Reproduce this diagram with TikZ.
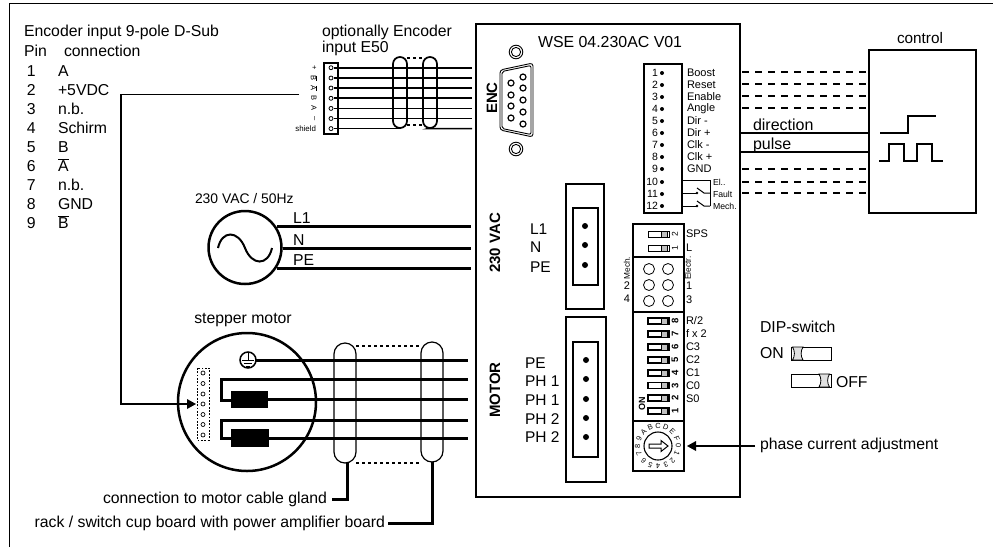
\documentclass[tikz,border=0pt]{standalone}
\usepackage{fontspec}
\usetikzlibrary{calc}
\setmainfont{Liberation Sans}
\newcommand\ovl[1]{\leavevmode\vbox{\hrule height .8pt \kern .4pt\hbox{#1}}}
\newcommand\fs[1]{\fontsize{#1}{#1}\selectfont}
\tikzset{
  base/.style={inner sep=0pt,outer sep=0pt},
  txt/.style={base,anchor=base west,font=\fs{15.8}},
  lbl/.style={base,anchor=west,font=\fs{15.8}},
  lblb/.style={base,anchor=west,font=\fs{15.5}},
  small/.style={base,anchor=west,font=\fs{11}},
  tiny/.style={base,anchor=west,font=\fs{8.7}},
  boldv/.style={base,rotate=90,font=\fs{15}\bfseries},
  wireA/.style={line width=1.7pt},
  wireB/.style={line width=3pt},
  dashw/.style={line width=1.2pt,dash pattern=on 6.5pt off 6.5pt},
  box/.style={draw,line width=1.5pt},
  capA/.style={draw,line width=1.7pt,rounded corners=7pt,minimum width=14pt,minimum height=71pt,base},
  capB/.style={draw,line width=1.2pt,rounded corners=11pt,minimum width=22pt,minimum height=120pt,base},
  dotw/.style={line width=2pt,dash pattern=on 3pt off 3pt},
}
\begin{document}
\begin{tikzpicture}[x=1pt,y=-1pt]
\useasboundingbox (0,0) rectangle (993,547);
% outer frame
\coordinate (fa) at (9,547); \coordinate (fb) at (9,3); \coordinate (fc) at (993,3);
\draw[line width=1pt] (fa) -- (fb) -- (fc);
% pin table
\node[txt] (t1) at (24,36) {Encoder input 9-pole D-Sub};
\node[txt] (t2) at (24,56) {Pin};
\node[txt] (t3) at (64,56) {connection};
\foreach \n/\v/\y in {1/A/71,2/+5VDC/89.5,3/n.b./108.5,4/Schirm/127.5,5/B/146.5,6/\ovl{A}/165.5,7/n.b./184.5,8/GND/203.5,9/\ovl{B}/222.5}{
  \node[base,anchor=base west,font=\fs{15.8}] (pn\n) at (27,\y+5.5) {\n};
  \node[base,anchor=base west,font=\fs{15.8}] (pv\n) at (58,\y+5.5) {\v};
}
% E50
\node[txt] (o1) at (322,36) {optionally Encoder};
\node[txt] (o2) at (322,52) {input E50};
\node[box,base,minimum width=14pt,minimum height=71pt] (e50) at (331,98.5) {};
\coordinate (wend) at (472,0);
\foreach \i/\y/\s in {1/67.7/+,2/78/\ovl{B},3/88/\ovl{A},4/98.3/B,5/108.4/A,6/118.5/--}{
  \coordinate (ec\i) at (331,\y);
  \draw[wireA] (ec\i) ++(3,0) -- (ec\i -| wend);
  \draw[line width=.8pt,fill=white] (ec\i) circle (2pt);
  \node[base,rotate=-90,font=\fs{7.5}] (el\i) at (314,\y) {\s};
}
\coordinate (ec7) at (331,128.6);
\draw[line width=.8pt,fill=white] (ec7) circle (2pt);
\node[base,anchor=east,font=\fs{7.9}] (el7) at (316,129) {shield};
\node[capA] (ca) at (400,92.5) {};
\node[capA] (cb) at (430,92.5) {};
\draw[wireA] (ec7) ++(3,0) -- (400,128.6) -- (ca.south);
\draw[wireA] (cb.south) -- (428,128.6) -- (ec7 -| wend);
\draw[dotw] ($(ca.north east)+(0,1)$) -- ($(cb.north west)+(0,1)$);
\draw[dotw] ($(ca.south east)+(0,-3)$) -- ($(cb.south west)+(0,-3)$);
% +5V feed
\coordinate (fs) at (299,94.5); \coordinate (fm) at (196,404);
\draw[line width=1.1pt] (fs) -- (121,94.5) -- (121,404) -- (188,404);
\fill (fm) -- (187,399) -- (187,409) -- cycle;
% AC source
\node[base,anchor=base west,font=\fs{13.9}] (acl) at (195,203) {230 VAC / 50Hz};
\node[draw,circle,line width=2.5pt,minimum size=73pt,base] (ac) at (245,247.5) {};
\draw[line width=2pt] (218,248) .. controls (222,230) and (238,230) .. (245,248) .. controls (252,266) and (268,266) .. (272,248);
\foreach \n/\l/\y/\x/\b in {l/L1/226/277/223,n/N/248/283/245,p/PE/268/277/265}{
  \coordinate (w\n) at (\x,\y);
  \draw[wireB] (w\n) -- (471,\y);
  \node[txt] (lac\n) at (293,\b) {\l};
}
% motor
\node[base,font=\fs{15.8}] (ml) at (243,320) {stepper motor};
\node[draw,circle,line width=2.5pt,minimum size=138pt,base] (mot) at (247,402) {};
\node[draw,circle,line width=1.5pt,minimum size=16pt,base] (gnd) at (248,360) {};
\draw[line width=1pt] (248,353) -- (248,360) (242,360) -- (254,360) (244,363) -- (252,363) (246,366) -- (250,366);
\coordinate (mwe) at (468,0);
\draw[wireB] (gnd.east) -- (gnd -| mwe);
\draw[wireB] (468,379) -- (221,379) -- (221,400) -- (232,400);
\draw[wireB] (468,420) -- (221,420) -- (221,438) -- (232,438);
\node[base,fill=black,minimum width=37pt,minimum height=17.5pt] (ph1) at (249.5,399.5) {};
\node[base,fill=black,minimum width=38pt,minimum height=18pt] (ph2) at (250,438) {};
\draw[wireB] (ph1.east) -- (ph1 -| mwe);
\draw[wireB] (ph2.east) -- (ph2 -| mwe);
\draw[line width=.8pt,dash pattern=on 1.8pt off 1.5pt] (197,368) rectangle (209,440);
\foreach \y in {373,383.5,394,404,414.5,424.5,435}{ \draw[line width=.7pt] (203,\y) circle (2pt); }
\node[capB] (cc) at (345,403) {};
\node[capB] (cd) at (432,402) {};
\draw[dotw] (356,345.5) -- (421,345.5);
\draw[dotw] (356,463) -- (421,463);
\node[base,anchor=east,font=\fs{15.8}] (gl) at (327,499) {connection to motor cable gland};
\node[base,anchor=east,font=\fs{15.8}] (rk) at (385,523) {rack / switch cup board with power amplifier board};
\draw[wireB] (cc.south) ++(2,0) -- (347,499) -- (332,499);
\draw[wireB] (cd.south) -- (432,523) -- (388,523);
% module
\draw[line width=1.6pt] (476,24) rectangle (740,497);
\node[txt,font=\fs{15.9}] (wt) at (538,47) {WSE 04.230AC V01};
\node[boldv] (enc) at (492,98) {ENC};
\node[boldv] (vac) at (495,243) {230 VAC};
\node[boldv] (mtr) at (495,390) {MOTOR};
% D-Sub
\foreach \p in {(516,52),(516,149)}{ \draw[line width=.9pt] \p circle (6.8pt); \draw[line width=.9pt] \p circle (4.6pt);}
\draw[line width=.9pt,rounded corners=3pt] (500,70) -- (533,63) -- (533,137) -- (500,130) -- cycle;
\draw[line width=.9pt,rounded corners=2pt] (502,71.5) -- (531,65.5) -- (531,134.5) -- (502,128.5) -- cycle;
\foreach \p in {(511,83),(511,95),(511,106),(511,118),(523,77),(523,88),(523,100),(523,112),(523,124)}{
  \draw[line width=1.2pt] \p circle (3pt);}
% 12 pin terminal
\draw[box] (644,64) rectangle (682,213);
\foreach \n/\y/\l in {1/73/Boost,2/85/Reset,3/97/Enable,4/109/Angle,5/121/Dir -,6/133/Dir +,7/145/Clk -,8/157/Clk +,9/169/GND,10/182/,11/194/,12/206/}{
  \node[base,anchor=east,font=\fs{10.5}] (tn\n) at (658,\y) {\n};
  \fill (662,\y) circle (2pt);
  \ifx\l\empty\else\node[small] (tl\n) at (687,\y) {\l};\fi
}
\node[tiny] (s1) at (713,182) {El..};
\node[tiny] (s2) at (713,194) {Fault};
\node[tiny] (s3) at (713,206) {Mech.};
\draw[line width=1pt] (682,180) -- (710,180) -- (710,206);
\foreach \y in {193,206}{
  \draw[line width=1pt] (683,\y) -- (697,\y);
  \fill (697,\y) circle (1.4pt);
  \draw[line width=1pt] (697,\y-5) -- (704,\y) -- (710,\y);
}
% control
\foreach \y in {72,84,96,108,169,182,193}{ \draw[dashw] (742,\y) -- (868,\y); }
\node[txt,font=\fs{16}] (dl) at (753,130.5) {direction};
\node[txt,font=\fs{16}] (pl) at (753,149) {pulse};
\draw[wireA] (741,133) -- (869,133);
\draw[wireA] (741,152) -- (869,152);
\node[base,font=\fs{15.3}] (cl) at (920,38) {control};
\node[draw,line width=2.6pt,minimum width=107pt,minimum height=163pt,base] (ctl) at (922.5,131.5) {};
\draw[line width=1.2pt] (880,133) -- (908,133) -- (908,116) -- (936,116);
\draw[line width=1.2pt] (879,161) -- (889,161) -- (889,144) -- (904,144) -- (904,161) -- (917,161) -- (917,144) -- (932,144) -- (932,161) -- (943,161);
% AC block
\draw[box] (566,184) rectangle (604,309);
\draw[box] (573,208) rectangle (598,285);
\foreach \y/\l/\ly in {226/L1/229,245/N/247.5,265/PE/267}{ \fill (585,\y) circle (3pt); \node[lblb] (acb\l) at (530,\ly) {\l}; }
% motor block
\draw[box] (566,317) rectangle (606,482);
\draw[box] (573,342) rectangle (598,457);
\foreach \y in {360,379,399,418,437}{ \fill (586,\y) circle (3pt); }
\node[lblb] (mb1) at (525,363) {PE};
\node[lblb] (mb2) at (525,381) {PH 1};
\node[lblb] (mb3) at (525,400) {PH 1};
\node[lblb] (mb4) at (525,419) {PH 2};
\node[lblb] (mb5) at (525,437) {PH 2};
% DIP block
\draw[box] (633,224) rectangle (684,471);
\draw[box] (633,257) -- (684,257) (633,312) -- (684,312) (633,421) -- (684,421);
\foreach \y/\n in {234/2,248/1}{
  \draw[line width=1pt] (648,\y-3) rectangle (669,\y+3);
  \draw[line width=1pt,fill=black!25] (661,\y-3) rectangle (667,\y+3);
  \node[base,rotate=90,font=\fs{8.5}] at (675,\y) {\n};
}
\foreach \y/\n in {321/8,334/7,347/6,360/5,373/4,385.5/3,398/2,411/1}{
  \draw[line width=1.4pt] (648,\y-3) rectangle (669,\y+3);
  \draw[line width=1pt,fill=black!25] (661,\y-3) rectangle (667,\y+3);
  \node[base,rotate=90,font=\fs{9.5}\bfseries] at (675,\y) {\n};
}
\node[base,rotate=90,font=\fs{9}\bfseries] (on) at (642,404) {ON};
\foreach \y/\l in {321/{R/2},334/f x 2,347/C3,360/C2,373/C1,386/C0,399/S0,234/SPS,248/L,286/1,300/3}{
  \node[small] at (686,\y) {\l};
}
\foreach \x in {649,668}{\foreach \y in {269,285,301}{ \draw[line width=.8pt] (\x,\y) circle (5.5pt); }}
\node[base,rotate=90,font=\fs{8.3}] (mech) at (627,268) {Mech.};
\node[base,rotate=90,font=\fs{8.3}] (elec) at (688,268) {Electr.};
\node[base,font=\fs{11}] (m2) at (627,286) {2};
\node[base,font=\fs{11}] (m4) at (627,299) {4};
% rotary
\node[draw,circle,line width=1.1pt,minimum size=28pt,base] (rot) at (658,446) {};
\draw[line width=1pt,fill=white] (649,444) -- (661,444) -- (661,440.5) -- (668,446) -- (661,451.5) -- (661,448) -- (649,448) -- cycle;
\foreach \c [count=\k from 0] in {0,1,2,3,4,5,6,7,8,9,A,B,C,D,E,F}{
  \node[base,font=\fs{7.4},rotate={-22.5*\k-90}] at ($(658,446)+({20.5*cos(22.5*\k)},{20.5*sin(22.5*\k)})$) {\c};
}
\coordinate (pa) at (755,446);
\draw[line width=1.1pt] (pa) -- (694,446);
\fill (687,446) -- (696,441) -- (696,451) -- cycle;
\node[base,anchor=west,font=\fs{15.8}] (pt) at (760,445) {phase current adjustment};
% legend
\node[txt] (lg) at (760,332) {DIP-switch};
\node[txt] (lon) at (760,358) {ON};
\node[txt] (lof) at (836,387) {OFF};
\draw[line width=.8pt] (791,347) rectangle (831,360);
\draw[line width=.8pt] (791,374) rectangle (831,387);
\draw[line width=.8pt,fill=black!12] (792.5,347) .. controls (795,351) and (795,356) .. (792.5,360) -- (803,360) .. controls (800.5,356) and (800.5,351) .. (803,347) -- cycle;
\draw[line width=.8pt,fill=black!12] (819,374) .. controls (821.5,378) and (821.5,383) .. (819,387) -- (829.5,387) .. controls (827,383) and (827,378) .. (829.5,374) -- cycle;
\end{tikzpicture}
\end{document}
